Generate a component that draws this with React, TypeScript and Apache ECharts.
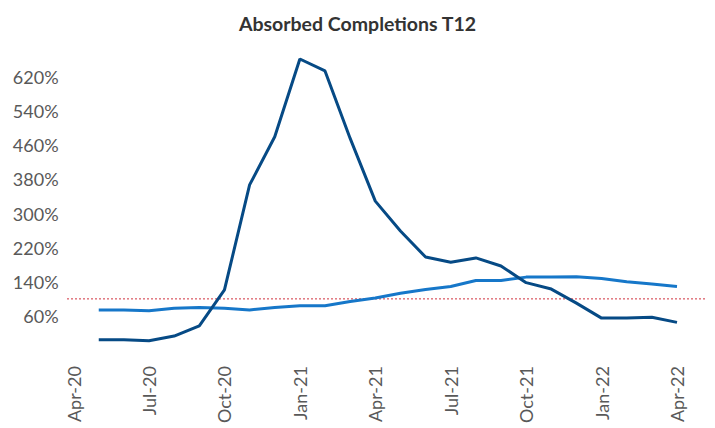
import React, { useEffect, useRef } from "react";
import * as echarts from "echarts";

const months = [
  "Apr-20", "May-20", "Jun-20", "Jul-20", "Aug-20", "Sep-20", "Oct-20", "Nov-20", "Dec-20",
  "Jan-21", "Feb-21", "Mar-21", "Apr-21", "May-21", "Jun-21", "Jul-21", "Aug-21", "Sep-21",
  "Oct-21", "Nov-21", "Dec-21", "Jan-22", "Feb-22", "Mar-22", "Apr-22",
];

// Absorbed completions T12 (dark line), percent
const absorbedT12 = [
  null, 4, 4, 2, 13, 37, 121, 367, 480, 662, 634, 476, 329, 259, 198, 186, 196, 177, 138, 123, 90, 55, 55, 57, 45,
];

// Second series (light line), percent
const secondSeries = [
  null, 74, 74, 72, 78, 80, 78, 74, 80, 84, 84, 94, 102, 113, 122, 129, 143, 143, 151, 151, 152, 148, 140, 135, 129,
];

const referenceLevel = 100;
const yTickLabels = [60, 140, 220, 300, 380, 460, 540, 620];

const FONT = "Lato, 'Open Sans', sans-serif";

export default function App() {
  const ref = useRef<HTMLDivElement>(null);

  useEffect(() => {
    if (!ref.current) return;
    const chart = echarts.init(ref.current, undefined, { renderer: "svg" });
    const top = 42.8;
    const height = 307.3;
    chart.setOption({
      animation: false,
      backgroundColor: "#ffffff",
      title: {
        text: "Absorbed Completions T12",
        left: "center",
        top: 8,
        textStyle: { fontFamily: FONT, fontSize: 19.5, fontWeight: "bold", color: "#333333" },
      },
      grid: [
        { left: 73.6, right: 38, top, height },
        { left: 67, right: 8, top, height },
      ],
      xAxis: [
        {
          type: "category",
          gridIndex: 0,
          data: months,
          boundaryGap: false,
          axisLine: { show: false },
          axisTick: { show: false },
          splitLine: { show: false },
          axisLabel: {
            interval: 2,
            rotate: 90,
            margin: 16,
            color: "#595959",
            fontFamily: FONT,
            fontSize: 18,
          },
        },
        { type: "value", gridIndex: 1, min: 0, max: 1, show: false },
      ],
      yAxis: [
        {
          type: "value",
          gridIndex: 0,
          min: -20,
          max: 700,
          interval: 20,
          axisLine: { show: false },
          axisTick: { show: false },
          splitLine: { show: false },
          axisLabel: {
            margin: 15,
            color: "#595959",
            fontFamily: FONT,
            fontSize: 18,
            formatter: (v: number) => (yTickLabels.includes(Math.round(v)) ? `${Math.round(v)}%` : ""),
          },
        },
        { type: "value", gridIndex: 1, min: -20, max: 700, show: false },
      ],
      series: [
        {
          type: "line",
          xAxisIndex: 1,
          yAxisIndex: 1,
          data: [[0, referenceLevel], [1, referenceLevel]],
          symbol: "none",
          silent: true,
          lineStyle: { color: "#D0313D", width: 1, type: [2, 2] },
        },
        {
          name: "Second",
          type: "line",
          xAxisIndex: 0,
          yAxisIndex: 0,
          data: secondSeries,
          symbol: "none",
          lineStyle: { color: "#1677C9", width: 3 },
        },
        {
          name: "Absorbed Completions T12",
          type: "line",
          xAxisIndex: 0,
          yAxisIndex: 0,
          data: absorbedT12,
          symbol: "none",
          lineStyle: { color: "#064A85", width: 3 },
        },
      ],
    });
    return () => chart.dispose();
  }, []);

  return (
    <div
      ref={ref}
      style={{ position: "fixed", left: 0, top: 0, width: 715, height: 428 }}
    />
  );
}
